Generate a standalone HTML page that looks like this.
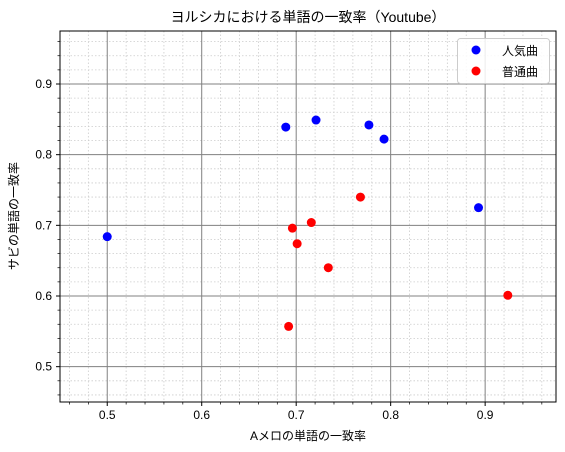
<!DOCTYPE html>
<html><head><meta charset="utf-8"><style>
body{margin:0;background:#fff;}
svg{display:block;font-family:"Liberation Sans","Noto Sans CJK JP",sans-serif;}
</style></head><body>
<svg id="chart" width="565" height="452">
<text x="308" y="22" font-size="14" text-anchor="middle">ヨルシカにおける単語の一致率（Youtube）</text>
<text x="308" y="440" font-size="12" text-anchor="middle">Aメロの単語の一致率</text>
<text x="18" y="216" font-size="12" text-anchor="middle" transform="rotate(-90 18 216)">サビの単語の一致率</text>
<g id="grid"></g><g id="ticks"></g><g id="marks"></g>
<rect x="60" y="31" width="496" height="371" fill="none" stroke="#000" stroke-width="1"/>
<g>
<rect x="457.5" y="38.5" width="92" height="45" rx="3" fill="#fff" fill-opacity="0.85" stroke="#ccc"/>
<g><circle cx="476" cy="50" r="4.5" fill="blue"/><text x="502" y="55" font-size="12">人気曲</text></g>
<g><circle cx="476" cy="71" r="4.5" fill="red"/><text x="502" y="76" font-size="12">普通曲</text></g>
</g>
</svg>
<script>
const popularX=[0.500,0.689,0.721,0.777,0.793,0.893];
const popularY=[0.684,0.839,0.849,0.842,0.822,0.725];
const normalX=[0.696,0.701,0.716,0.734,0.768,0.692,0.924];
const normalY=[0.696,0.674,0.704,0.640,0.740,0.557,0.601];
const xTicks=[0.5,0.6,0.7,0.8,0.9];
const yTicks=[0.5,0.6,0.7,0.8,0.9];
const xTickLabels=["0.5","0.6","0.7","0.8","0.9"];
const yTickLabels=["0.5","0.6","0.7","0.8","0.9"];
const L=60,R=556,T=31,B=402,MIN=0.45,MAX=0.975;
const sx=v=>L+(v-MIN)/(MAX-MIN)*(R-L);
const sy=v=>B-(v-MIN)/(MAX-MIN)*(B-T);
const NS="http://www.w3.org/2000/svg";
function mk(tag,attrs,parent){const e=document.createElementNS(NS,tag);for(const k in attrs)e.setAttribute(k,attrs[k]);document.getElementById(parent).appendChild(e);return e;}
for(let i=0;i<=26;i++){const v=MIN+0.01+i*0.02;if(v>MAX)break;const vv=Math.round(v*100)/100;
 if(Math.abs(vv*10-Math.round(vv*10))<1e-6)continue;
 const x=sx(vv),y=sy(vv);
 let g=mk('line',{x1:x,x2:x,y1:T,y2:B,stroke:'#ccc','stroke-width':0.8,'stroke-dasharray':'1.5,2'},'grid');
 
 g=mk('line',{x1:L,x2:R,y1:y,y2:y,stroke:'#ccc','stroke-width':0.8,'stroke-dasharray':'1.5,2'},'grid');
 
 mk('line',{x1:x,x2:x,y1:B,y2:B+2.5,stroke:'#000','stroke-width':0.7},'ticks');
 mk('line',{x1:L,x2:L-2.5,y1:y,y2:y,stroke:'#000','stroke-width':0.7},'ticks');
}
xTicks.forEach((v,i)=>{const x=sx(v);
 let g=mk('line',{x1:x,x2:x,y1:T,y2:B,stroke:'#808080','stroke-width':1},'grid');
 
 mk('line',{x1:x,x2:x,y1:B,y2:B+4,stroke:'#000'},'ticks');
 const t=mk('text',{x:x,y:B+17,'font-size':12,'text-anchor':'middle'},'ticks');t.textContent=xTickLabels[i];
 });
yTicks.forEach((v,i)=>{const y=sy(v);
 let g=mk('line',{x1:L,x2:R,y1:y,y2:y,stroke:'#808080','stroke-width':1},'grid');
 
 mk('line',{x1:L,x2:L-4,y1:y,y2:y,stroke:'#000'},'ticks');
 const t=mk('text',{x:L-8,y:y+4,'font-size':12,'text-anchor':'end'},'ticks');t.textContent=yTickLabels[i];
 });
popularX.forEach((v,i)=>{const c=mk('circle',{cx:sx(v),cy:sy(popularY[i]),r:4.5,fill:'blue'},'marks');
 });
normalX.forEach((v,i)=>{const c=mk('circle',{cx:sx(v),cy:sy(normalY[i]),r:4.5,fill:'red'},'marks');
 });
</script>
</body></html>
